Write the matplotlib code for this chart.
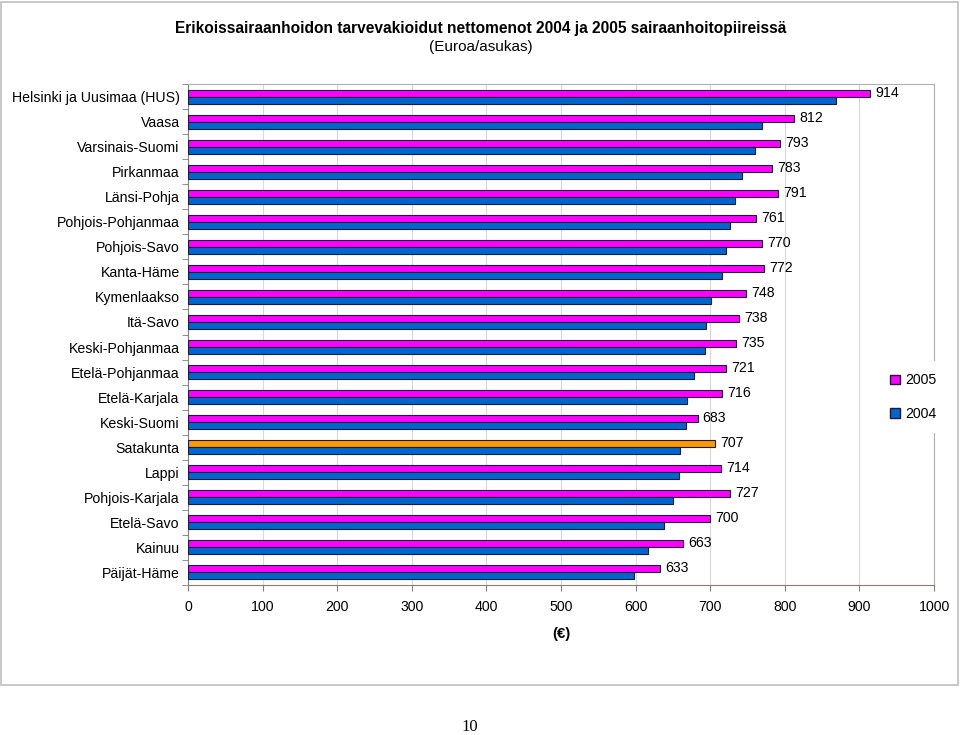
import matplotlib.pyplot as plt
from matplotlib.patches import Patch, Rectangle

plt.rcParams['font.family'] = ['Liberation Sans', 'DejaVu Sans']

regions = ['Helsinki ja Uusimaa (HUS)', 'Vaasa', 'Varsinais-Suomi', 'Pirkanmaa',
           'Länsi-Pohja', 'Pohjois-Pohjanmaa', 'Pohjois-Savo', 'Kanta-Häme',
           'Kymenlaakso', 'Itä-Savo', 'Keski-Pohjanmaa', 'Etelä-Pohjanmaa',
           'Etelä-Karjala', 'Keski-Suomi', 'Satakunta', 'Lappi',
           'Pohjois-Karjala', 'Etelä-Savo', 'Kainuu', 'Päijät-Häme']
costs_2005 = [914, 812, 793, 783, 791, 761, 770, 772, 748, 738,
              735, 721, 716, 683, 707, 714, 727, 700, 663, 633]
costs_2004 = [868, 770, 760, 743, 733, 726, 721, 716, 701, 694,
              693, 678, 669, 668, 660, 658, 650, 638, 616, 598]
highlight = 'Satakunta'

c2005 = '#FF00FF'
c2004 = '#0066CC'
chl = '#FF9900'
edge = '#1A1A40'
fs = 10.2

fig = plt.figure(figsize=(9.6, 7.35), dpi=100)
ax = fig.add_axes([188 / 960, 1 - 585 / 735, 746 / 960, 501 / 735])

h = 0.28
ypos = list(range(len(regions)))
cols05 = [chl if r == highlight else c2005 for r in regions]
ax.barh([y - h / 2 for y in ypos], costs_2005, height=h, color=cols05,
        edgecolor=edge, linewidth=0.8, zorder=3)
ax.barh([y + h / 2 for y in ypos], costs_2004, height=h, color=c2004,
        edgecolor=edge, linewidth=0.8, zorder=3)

for y, v in zip(ypos, costs_2005):
    ax.text(v + 7, y - h / 2 - 0.02, str(v), va='center', ha='left', fontsize=fs)

ax.set_xlim(0, 1000)
ax.set_ylim(len(regions) - 0.5, -0.5)
ax.set_xticks(range(0, 1001, 100))
ax.set_yticks(ypos)
ax.set_yticklabels(regions, fontsize=fs)
ax.set_yticks([y - 0.5 for y in ypos] + [len(regions) - 0.5], minor=True)
ax.tick_params(axis='y', which='major', length=0, pad=6)
ax.tick_params(axis='y', which='minor', length=4, color='#808080')
ax.tick_params(axis='x', length=4, color='#808080', labelsize=fs, pad=7)
ax.xaxis.grid(True, color='#D9D9D9', linewidth=0.8, zorder=0)
ax.set_axisbelow(True)
for side in ['top', 'right']:
    ax.spines[side].set_color('#B0B0B0')
ax.spines['left'].set_color('#808080')
ax.spines['bottom'].set_color('#8C7B70')

ax.set_xlabel('(€)', fontsize=fs + 0.5, fontweight='bold', labelpad=9)

fig.text(481 / 960, 1 - 29 / 735,
         'Erikoissairaanhoidon tarvevakioidut nettomenot 2004 ja 2005 sairaanhoitopiireissä',
         ha='center', va='center', fontsize=11.2, fontweight='bold')
fig.text(481 / 960, 1 - 47 / 735, '(Euroa/asukas)', ha='center', va='center', fontsize=11)

handles = [Patch(facecolor=c2005, edgecolor=edge, label='2005'),
           Patch(facecolor=c2004, edgecolor=edge, label='2004')]
leg = fig.legend(handles=handles, loc='center left', bbox_to_anchor=(870 / 960, 1 - 397 / 735),
                 fontsize=fs, handlelength=0.7, handleheight=0.7, handletextpad=0.4,
                 labelspacing=1.35, frameon=True, fancybox=False, borderpad=0.9)
leg.get_frame().set_facecolor('white')
leg.get_frame().set_edgecolor('none')
leg.get_frame().set_alpha(1)

fig.patches.append(Rectangle((1 / 960, 1 - 685 / 735), 957 / 960, 683 / 735,
                             transform=fig.transFigure, fill=False,
                             edgecolor='#BFBFBF', linewidth=1.2))
fig.text(470 / 960, 1 - 727 / 735, '10', ha='center', va='center',
         fontsize=12, family=['Liberation Serif', 'DejaVu Serif'])

fig.savefig('out.png', dpi=100, facecolor='white')
